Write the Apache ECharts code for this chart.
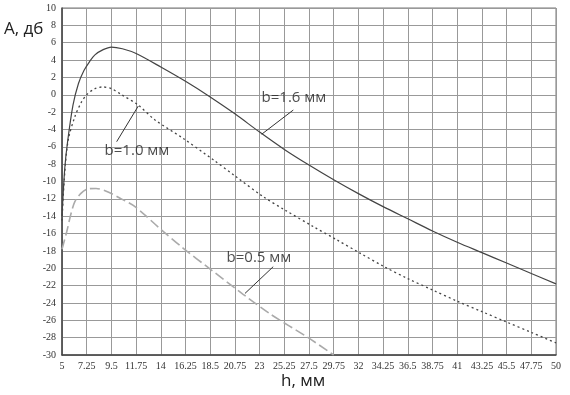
<!DOCTYPE html>
<html>
<head>
<meta charset="utf-8">
<script src="https://cdn.jsdelivr.net/npm/echarts@6/dist/echarts.min.js"></script>
<style>
  html, body { margin: 0; padding: 0; background: #fff; }
  #chart { width: 570px; height: 395px; }
</style>
</head>
<body>
<div id="chart"></div>
<script>
  // b = 1.6 мм (сплошная)
  var h16 = [5, 5.25, 5.5, 6, 6.5, 7, 7.5, 8, 8.75, 9.5, 10.5, 11.75, 14, 16.25, 18.5, 20.75, 23, 25.25, 27.5, 29.75, 32, 34.25, 36.5, 38.75, 41, 43.25, 45.5, 47.75, 50];
  var a16 = [-14, -8.5, -5.5, -1.2, 1.3, 2.8, 3.8, 4.6, 5.2, 5.5, 5.3, 4.75, 3.2, 1.55, -0.25, -2.2, -4.3, -6.3, -8.1, -9.8, -11.4, -12.9, -14.3, -15.7, -17.0, -18.2, -19.4, -20.6, -21.8];
  // b = 1.0 мм (точки)
  var h10 = [5, 5.25, 5.57, 6.18, 6.75, 7.25, 8, 8.7, 9.5, 10.44, 11.95, 13.47, 16, 18.78, 20.75, 23.33, 25.25, 27.89, 30, 32.14, 34.25, 36.5, 38.75, 41, 43.25, 45.5, 47.75, 50];
  var a10 = [-14.5, -9, -5.2, -2.5, -0.9, 0, 0.7, 0.9, 0.7, 0, -1.2, -2.9, -5.0, -7.5, -9.35, -11.75, -13.25, -15.2, -16.7, -18.25, -19.75, -21.2, -22.5, -23.8, -25.0, -26.2, -27.4, -28.6];
  // b = 0.5 мм (штрих)
  var h05 = [5, 5.43, 5.8, 6.18, 6.7, 7.25, 8.1, 9.2, 10.4, 11.65, 14.08, 16.05, 18.5, 21.5, 24, 27.3, 29.75];
  var a05 = [-17.8, -15.8, -13.8, -12.3, -11.4, -10.9, -10.8, -11.2, -12.0, -12.9, -15.6, -17.7, -20.1, -23.0, -25.3, -27.9, -30];

  // подписи кривых: текст и выноски (в координатах графика)
  var labelText = ['b=1.6 мм', 'b=1.0 мм', 'b=0.5 мм'];
  var labelPos = [[26.13, -0.37], [11.83, -6.48], [22.94, -18.82]];
  var leaders = [
    [[23.19, -4.55], [26.07, -1.76]],
    [[9.98, -5.41], [11.95, -1.3]],
    [[21.67, -22.9], [24.24, -19.82]]
  ];

  function zip(xs, ys) {
    return xs.map(function (x, i) { return [x, ys[i]]; });
  }

  var myChart = echarts.init(document.getElementById('chart'));

  var labelSeries = {
    type: 'scatter',
    symbolSize: 0,
    silent: true,
    data: labelPos.map(function (p, i) { return { value: p, name: labelText[i] }; }),
    label: {
      show: true,
      position: 'inside',
      formatter: function (p) { return p.name; },
      fontFamily: 'Open Sans',
      fontSize: 15,
      color: '#222'
    },
    markLine: {
      silent: true,
      symbol: 'none',
      label: { show: false },
      lineStyle: { color: '#333', width: 1, type: 'solid' },
      data: leaders.map(function (l) { return [{ coord: l[0] }, { coord: l[1] }]; })
    }
  };

  myChart.setOption({
    animation: false,
    backgroundColor: '#fff',
    grid: {
      left: 62,
      right: 14,
      top: 8,
      bottom: 40,
      show: true,
      borderColor: '#777',
      borderWidth: 1
    },
    graphic: [
      { type: 'text', left: 4, top: 21, style: { text: 'А, дб', fontFamily: 'Open Sans', fontSize: 17, fill: '#222' } },
      { type: 'text', left: 281, top: 373, style: { text: 'h, мм', fontFamily: 'Open Sans', fontSize: 17, fill: '#222' } }
    ],
    xAxis: {
      type: 'value',
      min: 5,
      max: 50,
      interval: 2.25,
      axisLine: { show: true, onZero: false, lineStyle: { color: '#444', width: 1.5 } },
      axisTick: { show: false },
      axisLabel: { fontFamily: 'Liberation Serif', fontSize: 10, color: '#333', margin: 6 },
      splitLine: { show: true, lineStyle: { color: '#999', width: 1 } }
    },
    yAxis: {
      type: 'value',
      min: -30,
      max: 10,
      interval: 2,
      axisLine: { show: true, onZero: false, lineStyle: { color: '#444', width: 1.5 } },
      axisTick: { show: false },
      axisLabel: { fontFamily: 'Liberation Serif', fontSize: 10, color: '#333', margin: 6 },
      splitLine: { show: true, lineStyle: { color: '#999', width: 1 } }
    },
    series: [
      {
        name: 'b=1.6',
        type: 'line',
        smooth: 0.3,
        symbol: 'none',
        lineStyle: { color: '#444', width: 1.2 },
        data: zip(h16, a16)
      },
      {
        name: 'b=1.0',
        type: 'line',
        smooth: 0.3,
        symbol: 'none',
        lineStyle: { color: '#444', width: 1.3, type: [2, 3] },
        data: zip(h10, a10)
      },
      {
        name: 'b=0.5',
        type: 'line',
        smooth: 0.3,
        symbol: 'none',
        lineStyle: { color: '#aaa', width: 1.6, type: [10, 4] },
        data: zip(h05, a05)
      },
      labelSeries
    ]
  });
</script>
</body>
</html>
